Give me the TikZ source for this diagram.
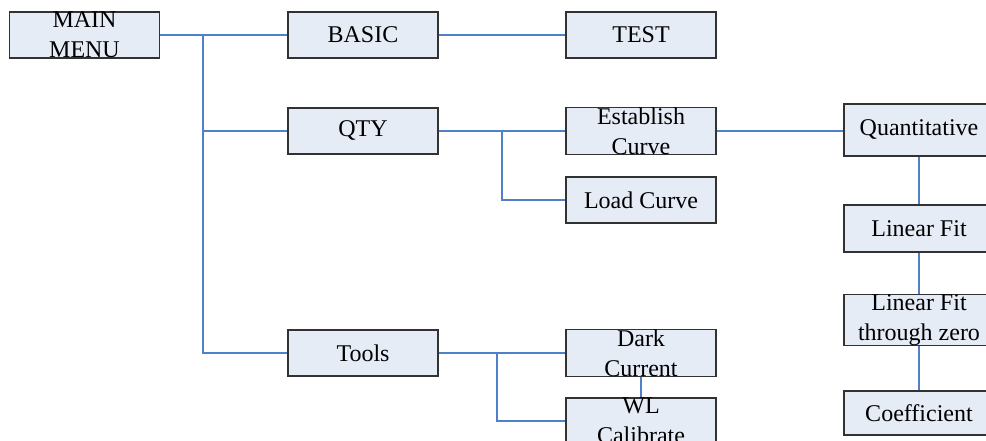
\documentclass[tikz,border=0pt]{standalone}
\usepackage{fontspec}
\setmainfont{Liberation Serif}
\definecolor{boxfill}{RGB}{230,236,246}
\definecolor{boxline}{RGB}{50,50,50}
\definecolor{linkblue}{RGB}{79,129,200}
\begin{document}
\begin{tikzpicture}[x=1pt,y=-1pt,
  menubox/.style={draw=boxline, line width=1.2pt, fill=boxfill,
    minimum width=150pt, minimum height=46pt, inner sep=0pt,
    align=center, font=\fontsize{24}{30}\selectfont},
  link/.style={draw=linkblue, line width=1.1pt}]
\useasboundingbox (0,0) rectangle (986,441);
\clip (0,0) rectangle (986,441);

% connector junctions
\coordinate (j1) at (203,35);
\coordinate (j2) at (502,131);
\coordinate (j3) at (497,353);

% menu boxes
\node[menubox] (main)  at (84.5,35)  {MAIN\\MENU};
\node[menubox] (basic) at (363,35)   {BASIC};
\node[menubox] (test)  at (641,35)   {TEST};
\node[menubox] (qty)   at (363,131)  {QTY};
\node[menubox] (est)   at (641,131)  {Establish\\Curve};
\node[menubox] (load)  at (641,200)  {Load Curve};
\node[menubox] (tools) at (363,353)  {Tools};
\node[menubox] (dark)  at (641,353)  {Dark\\Current};
\node[menubox] (wl)    at (641,421)  {WL\\Calibrate};
\node[menubox, minimum height=52pt] (quant) at (919,130) {Quantitative};
\node[menubox, minimum height=47pt] (lin)   at (919,228.5) {Linear Fit};
\node[menubox] (linz)  at (919,320) {Linear Fit\\through zero};
\node[menubox, minimum height=44pt] (coef)  at (919,413) {Coefficient};

% connectors
\draw[link] (main.east) -- (basic.west);
\draw[link] (basic.east) -- (test.west);
\draw[link] (j1) |- (qty.west);
\draw[link] (j1) |- (tools.west);
\draw[link] (qty.east) -- (est.west);
\draw[link] (j2) |- (load.west);
\draw[link] (est.east) -- (est.east -| quant.west);
\draw[link] (tools.east) -- (dark.west);
\draw[link] (j3) |- (wl.west);
\draw[link] (dark.south) -- (wl.north);
\draw[link] (quant.south) -- (lin.north);
\draw[link] (lin.south) -- (linz.north);
\draw[link] (linz.south) -- (coef.north);
\end{tikzpicture}
\end{document}
